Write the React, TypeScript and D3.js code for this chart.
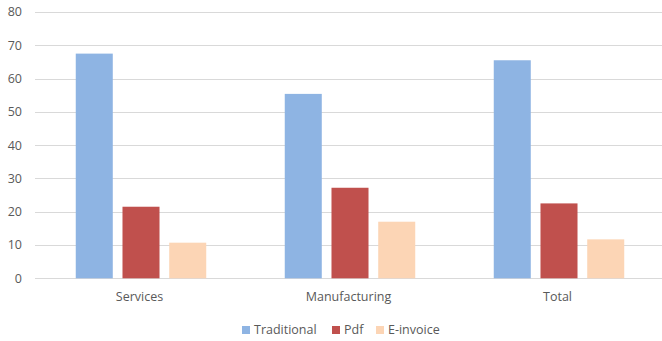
import React from "react";
import * as d3 from "d3";

const categories = ["Services", "Manufacturing", "Total"];
const seriesNames = ["Traditional", "Pdf", "E-invoice"];
const traditional = [67.5, 55.4, 65.5];
const pdf = [21.5, 27.2, 22.5];
const einvoice = [10.7, 17.0, 11.7];
const yTicks = [0, 10, 20, 30, 40, 50, 60, 70, 80];
const colors = ["#8EB4E3", "#C0504D", "#FCD5B5"];

const W = 662;
const H = 341;

export default function App() {
  const series = [traditional, pdf, einvoice];
  const y = d3.scaleLinear().domain([0, 80]).range([278.3, 12]);
  const x0 = d3.scaleBand<string>().domain(categories).range([35, 662]).padding(0);
  const x1 = d3
    .scaleBand<string>()
    .domain(seriesNames)
    .range([1.5, x0.bandwidth() + 1.5])
    .paddingInner(0.208)
    .paddingOuter(0.84);
  const font = "'Open Sans', 'Noto Sans', sans-serif";
  const legendX = [242, 332, 376];
  return (
    <svg
      width={W}
      height={H}
      style={{ position: "absolute", left: 0, top: 0, background: "#fff" }}
      fontFamily={font}
    >
      {yTicks.map((t) => (
        <g key={t}>
          <line x1={35} x2={662} y1={Math.round(y(t)) + 0.5} y2={Math.round(y(t)) + 0.5} stroke="#D9D9D9" strokeWidth={1} />
          <text x={22} y={y(t)} dy="0.35em" textAnchor="end" fontSize={12.5} fill="#595959">
            {t}
          </text>
        </g>
      ))}
      {categories.map((c, ci) => (
        <g key={c}>
          {seriesNames.map((s, si) => (
            <rect
              key={s}
              x={x0(c)! + x1(s)!}
              y={y(series[si][ci])}
              width={x1.bandwidth()}
              height={y(0) - y(series[si][ci])}
              fill={colors[si]}
            />
          ))}
          <text
            x={x0(c)! + x0.bandwidth() / 2}
            y={297}
            dy="0.35em"
            textAnchor="middle"
            fontSize={12.5}
            fill="#595959"
          >
            {c}
          </text>
        </g>
      ))}
      {seriesNames.map((s, i) => (
        <g key={s}>
          <rect x={legendX[i]} y={326} width={8} height={8} fill={colors[i]} />
          <text x={legendX[i] + 12} y={330} dy="0.35em" fontSize={12.5} fill="#595959">
            {s}
          </text>
        </g>
      ))}
    </svg>
  );
}
